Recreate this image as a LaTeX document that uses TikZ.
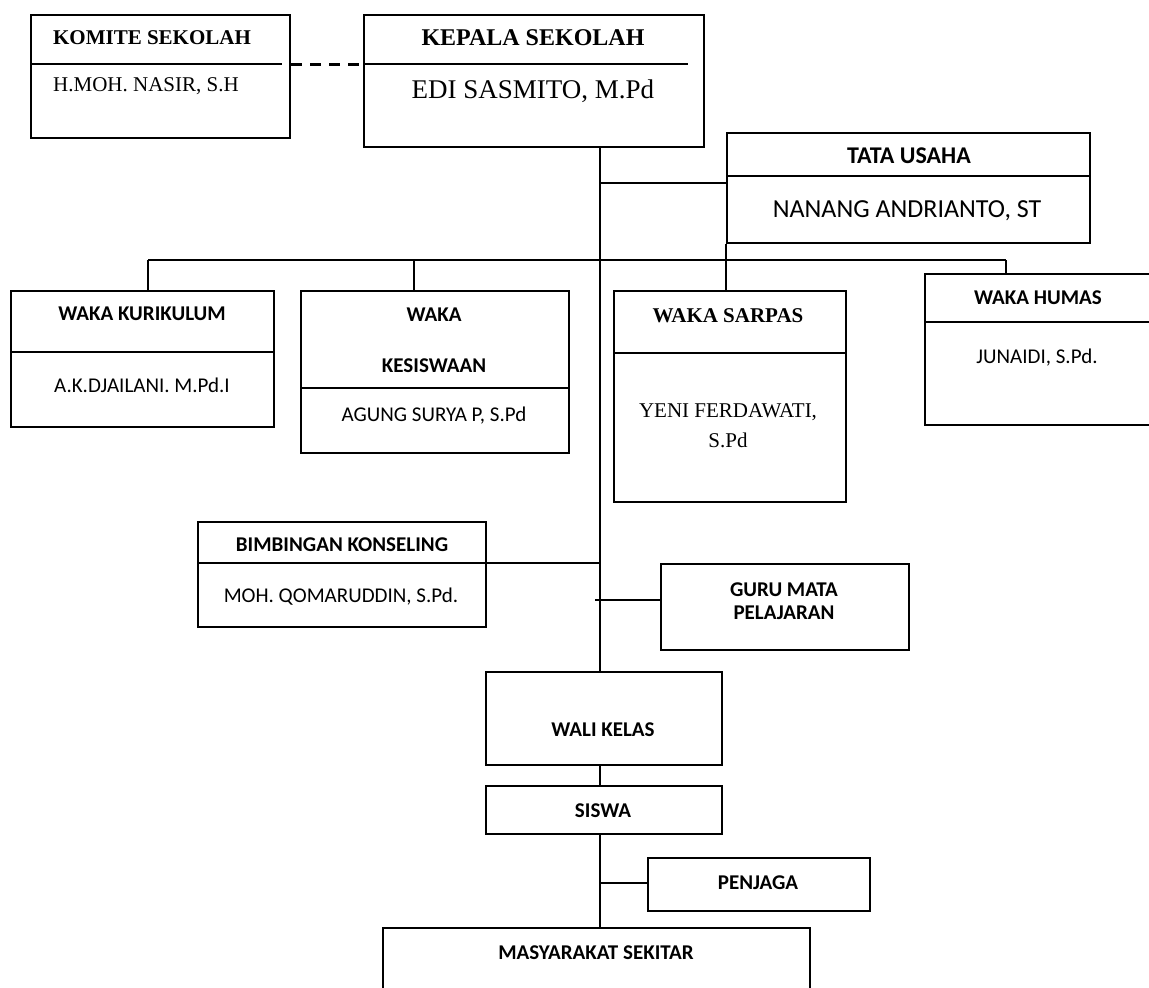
\documentclass[tikz,border=0pt]{standalone}
\usepackage{fontspec}
\setmainfont{Liberation Serif}
\newfontfamily\calfont{Carlito}
\begin{document}
\begin{tikzpicture}[x=1pt,y=-1pt,
  box/.style={draw, line width=2pt, inner sep=0pt, anchor=north west},
  conn/.style={line width=2pt},
  lbl/.style={inner sep=0pt, anchor=center},
  tb/.style={lbl, font=\fontsize{21}{25}\selectfont\bfseries},
  tr/.style={lbl, font=\fontsize{21}{25}\selectfont},
  cb/.style={lbl, font=\calfont\fontsize{21}{25}\selectfont\bfseries},
  cr/.style={lbl, font=\calfont\fontsize{21}{25}\selectfont}]
\newcommand\orgbox[5]{\node[box, minimum width={(#4-#2)*1pt}, minimum height={(#5-#3)*1pt}] (#1) at (#2,#3) {};}
\useasboundingbox (0,0) rectangle (1149,988);
\clip (0,0) rectangle (1149,988);
\fill[white] (0,0) rectangle (1149,988);
% boxes
\orgbox{komite}{30}{14}{289}{137}
\orgbox{kepala}{363}{14}{703}{146}
\orgbox{tu}{726}{132}{1089}{242}
\orgbox{kurikulum}{10}{290}{273}{426}
\orgbox{kesiswaan}{300}{290}{568}{452}
\orgbox{sarpas}{613}{290}{845}{501}
\orgbox{humas}{924}{273}{1170}{424}
\orgbox{bk}{197}{521}{485}{626}
\orgbox{guru}{660}{563}{908}{649}
\orgbox{wali}{485}{671}{721}{764}
\orgbox{siswa}{485}{785}{721}{833}
\orgbox{penjaga}{647}{857}{869}{910}
\orgbox{masy}{382}{927}{809}{1010}
% dividers
\draw[conn] (komite.west |- 0,64) -- (282,64);
\draw[conn] (kepala.west |- 0,64) -- (688,64);
\draw[conn] (tu.west |- 0,176) -- (tu.east |- 0,176);
\draw[conn] (kurikulum.west |- 0,352) -- (kurikulum.east |- 0,352);
\draw[conn] (kesiswaan.west |- 0,388) -- (kesiswaan.east |- 0,388);
\draw[conn] (sarpas.west |- 0,353) -- (sarpas.east |- 0,353);
\draw[conn] (humas.west |- 0,322) -- (humas.east |- 0,322);
% texts
\node[tb] (tkomite) at (152,38) {KOMITE SEKOLAH};
\node[tr, anchor=west] (nkomite) at (53,86) {H.MOH. NASIR, S.H};
\node[tb, font=\fontsize{24}{28}\selectfont\bfseries] (tkepala) at (533,38) {KEPALA SEKOLAH};
\node[tr, font=\fontsize{27}{32}\selectfont] (nkepala) at (533,91) {EDI SASMITO, M.Pd};
\node[cb, font=\calfont\fontsize{24}{28}\selectfont\bfseries] (ttu) at (909,156) {TATA USAHA};
\node[cr, font=\calfont\fontsize{26}{31}\selectfont] (ntu) at (907,211) {NANANG ANDRIANTO, ST};
\node[cb] (tkur) at (142,314) {WAKA KURIKULUM};
\node[cr] (nkur) at (142,385) {A.K.DJAILANI. M.Pd.I};
\node[cb] (tkes1) at (434,315) {WAKA};
\node[cb] (tkes2) at (434,366) {KESISWAAN};
\node[cr] (nkes) at (434,416) {AGUNG SURYA P, S.Pd};
\node[tb] (tsar) at (728,316) {WAKA SARPAS};
\node[tr] (nsar1) at (728,412) {YENI FERDAWATI,};
\node[tr] (nsar2) at (728,440) {S.Pd};
\node[cb] (thum) at (1038,298) {WAKA HUMAS};
\node[cr] (nhum) at (1037,358) {JUNAIDI, S.Pd.};
\node[cb] (tbk) at (342,545) {BIMBINGAN KONSELING};
\node[cr] (nbk) at (341,597) {MOH. QOMARUDDIN, S.Pd.};
\node[cb] (tguru1) at (784,590) {GURU MATA};
\node[cb] (tguru2) at (784,613) {PELAJARAN};
\node[cb] (twali) at (603,730) {WALI KELAS};
\node[cb] (tsiswa) at (603,811) {SISWA};
\node[cb] (tpenjaga) at (758,883) {PENJAGA};
\node[cb] (tmasy) at (596,953) {MASYARAKAT SEKITAR};
% connectors
\coordinate (trunk) at (600,0);
\draw[line width=3pt, dash pattern=on 11pt off 8pt] (komite.east |- 0,64) -- (kepala.west |- 0,64);
\draw[conn] (kepala.south -| trunk) -- (wali.north -| trunk);
\draw[conn] (trunk |- 0,183) -- (tu.west |- 0,183);
\draw[conn] (148,260) -- (1006,260);
\draw[conn] (tu.south west) -- (sarpas.north -| tu.south west);
\draw[conn] (148,260) -- (kurikulum.north -| 148,0);
\draw[conn] (414,260) -- (kesiswaan.north -| 414,0);
\draw[conn] (1006,260) -- (humas.north -| 1006,0);
\draw[conn] (bk.west |- 0,563) -- (trunk |- 0,563);
\draw[conn] (595,600) -- (guru.west |- 0,600);
\draw[conn] (wali.south -| trunk) -- (siswa.north -| trunk);
\draw[conn] (siswa.south -| trunk) -- (masy.north -| trunk);
\draw[conn] (trunk |- 0,883) -- (penjaga.west |- 0,883);
\end{tikzpicture}
\end{document}
